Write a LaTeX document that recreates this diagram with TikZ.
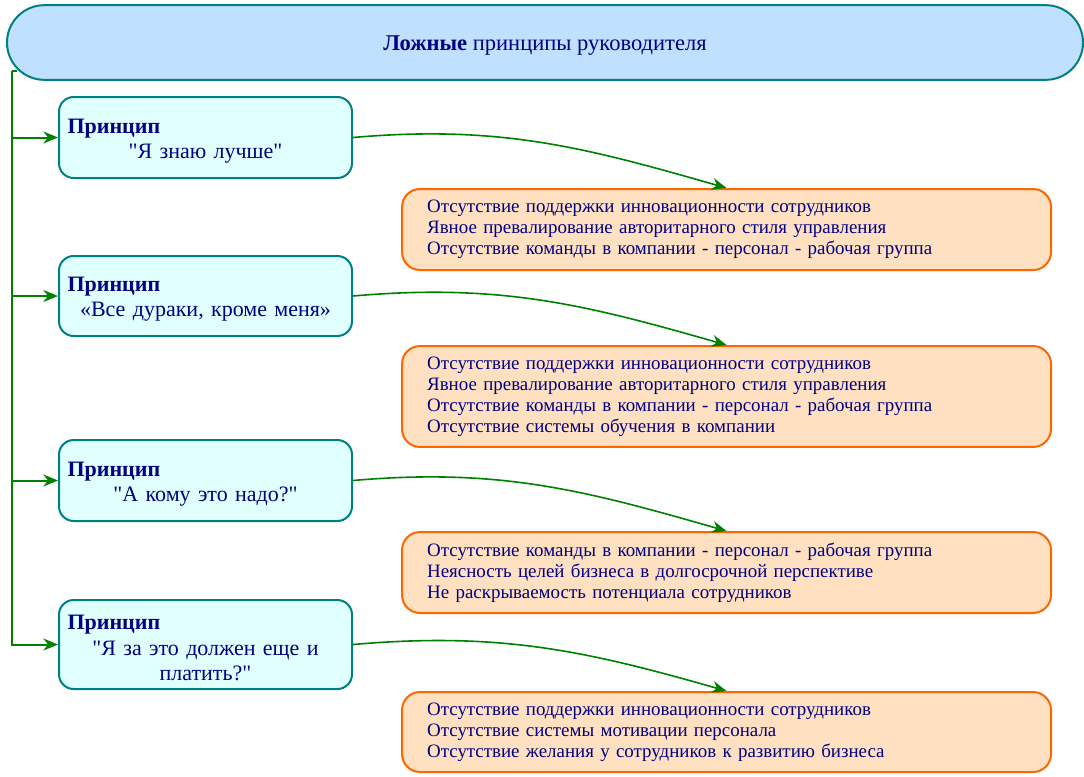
\documentclass[tikz,border=0pt]{standalone}
\usepackage{fontspec}
\setmainfont{Liberation Serif}[Ligatures=TeXOff]
\usetikzlibrary{arrows.meta}

\definecolor{navytext}{RGB}{0,0,128}
\definecolor{tealline}{RGB}{0,128,128}
\definecolor{titlefill}{RGB}{192,224,255}
\definecolor{rulefill}{RGB}{224,255,255}
\definecolor{effectfill}{RGB}{255,224,192}
\definecolor{effectline}{RGB}{255,102,0}
\definecolor{linkgreen}{RGB}{0,128,0}

\tikzset{
  titlebox/.style={draw=tealline, line width=1.5pt, fill=titlefill, rounded corners=28pt,
    minimum width=807pt, minimum height=56pt, text height=14pt, text depth=2pt,
    text=navytext, font=\fontsize{16.9}{20}\selectfont},
  rulebox/.style={draw=tealline, line width=1.5pt, fill=rulefill, rounded corners=11pt,
    minimum width=219.75pt, text width=207pt, inner sep=6pt, text=navytext,
    font=\fontsize{16.5}{19}\selectfont},
  effectbox/.style={draw=effectline, line width=1.5pt, fill=effectfill, rounded corners=13.5pt,
    minimum width=486.75pt, text width=449pt, inner xsep=18.75pt, inner ysep=8pt, text=navytext,
    align=left, font=\fontsize{14.2}{15.75}\selectfont},
  branch/.style={draw=linkgreen, line width=1.5pt, -{Stealth[length=11pt,width=9pt]}},
  link/.style={draw=linkgreen, line width=1.2pt, -{Stealth[length=11pt,width=9pt]}},
}

\newcommand{\principle}[1]{\parindent=0pt\rule{0pt}{16pt}\textbf{Принцип}\par\centering #1\par}

\begin{document}
\begin{tikzpicture}[x=0.75pt,y=-0.75pt]
   \useasboundingbox (0,0) rectangle (1084,776);

   \node (title) at (545,42.5) [titlebox] {\textbf{Ложные} принципы руководителя};

   \node (p1) at (205.5,137.5) [rulebox, minimum height=60.75pt] {\principle{"Я знаю лучше"}};
   \node (p2) at (205.5,296) [rulebox, minimum height=60pt] {\principle{«Все дураки, кроме меня»}};
   \node (p3) at (205.5,480.5) [rulebox, minimum height=60.75pt] {\principle{"А кому это надо?"}};
   \node (p4) at (205.5,644.5) [rulebox, minimum height=66.75pt] {\principle{"Я за это должен еще и платить?"}};

   \node (e1) at (726.5,229.5) [effectbox, minimum height=60.75pt] {Отсутствие поддержки инновационности сотрудников\\
      Явное превалирование авторитарного стиля управления\\
      Отсутствие команды в компании - персонал - рабочая группа};
   \node (e2) at (726.5,396.5) [effectbox, minimum height=72.75pt] {Отсутствие поддержки инновационности сотрудников\\
      Явное превалирование авторитарного стиля управления\\
      Отсутствие команды в компании - персонал - рабочая группа\\
      Отсутствие системы обучения в компании};
   \node (e3) at (726.5,572.5) [effectbox, minimum height=59.25pt] {Отсутствие команды в компании - персонал - рабочая группа\\
      Неясность целей бизнеса в долгосрочной перспективе\\
      Не раскрываемость потенциала сотрудников};
   \node (e4) at (726.5,732) [effectbox, minimum height=60pt] {Отсутствие поддержки инновационности сотрудников\\
      Отсутствие системы мотивации персонала\\
      Отсутствие желания у сотрудников к развитию бизнеса};

   \coordinate (trunk) at (12,71);

   \draw [linkgreen, line width=1.5pt] (trunk) -- (17,71);
   \draw [branch] (trunk) |- (p1.west);
   \draw [branch] (trunk) |- (p2.west);
   \draw [branch] (trunk) |- (p3.west);
   \draw [branch] (trunk) |- (p4.west);

   \draw [link] (p1.east) to[out=5,in=164] (e1.north);
   \draw [link] (p2.east) to[out=5,in=164] (e2.north);
   \draw [link] (p3.east) to[out=5,in=164] (e3.north);
   \draw [link] (p4.east) to[out=5,in=164] (e4.north);

\end{tikzpicture}
\end{document}
